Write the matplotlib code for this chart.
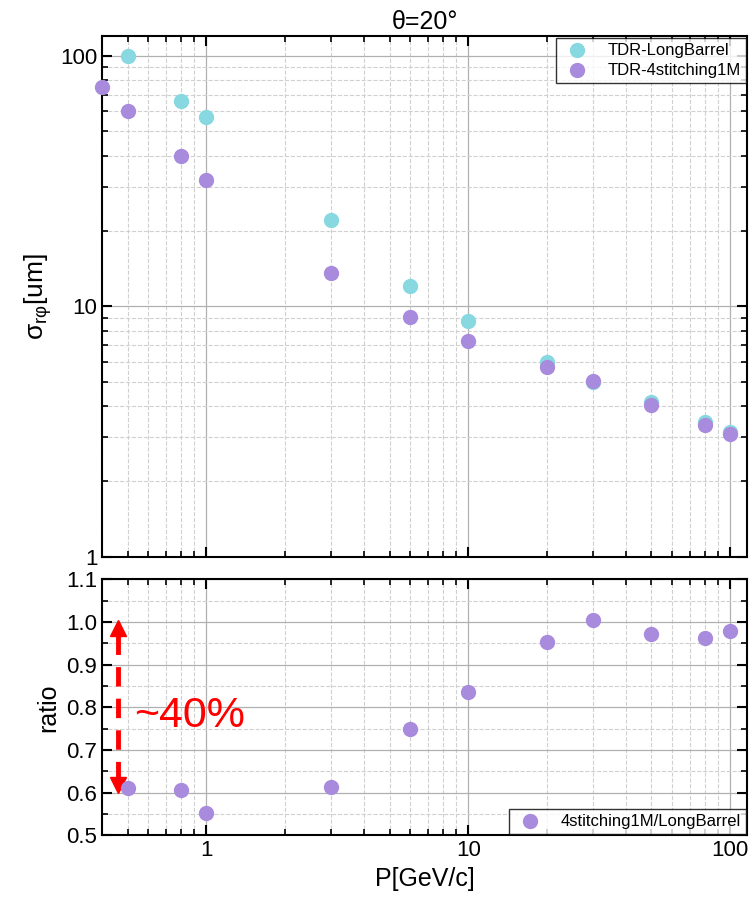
import numpy as np
import matplotlib.pyplot as plt
from matplotlib.ticker import FixedLocator, NullFormatter, MultipleLocator, LogLocator

plt.rcParams['font.family'] = ['Liberation Sans', 'DejaVu Sans']

# data
p_long = [0.5, 0.8, 1, 3, 6, 10, 20, 30, 50, 80, 100]
sigma_long = [100, 66, 57, 22.2, 12.1, 8.7, 6.0, 5.0, 4.15, 3.45, 3.15]
p_stitch = [0.4, 0.5, 0.8, 1, 3, 6, 10, 20, 30, 50, 80, 100]
sigma_stitch = [75, 60, 40, 32, 13.6, 9.1, 7.25, 5.75, 5.05, 4.05, 3.35, 3.1]
p_ratio = [0.5, 0.8, 1, 3, 6, 10, 20, 30, 50, 80, 100]
ratio = [0.61, 0.606, 0.553, 0.612, 0.75, 0.835, 0.953, 1.004, 0.971, 0.962, 0.979]

cyan = '#87d8e0'
purple = '#a98bdd'

fig = plt.figure(figsize=(7.51, 9.01), dpi=100)
ax1 = fig.add_axes([0.136, 0.382, 0.859, 0.578])
ax2 = fig.add_axes([0.136, 0.073, 0.859, 0.284])

xlim = (0.4, 116)

def style(ax):
    ax.set_xscale('log')
    ax.set_xlim(*xlim)
    ax.grid(which='major', color='#b0b0b0', lw=0.9, ls='-')
    ax.grid(which='minor', color='#d0d0d0', lw=0.8, ls='--')
    ax.set_axisbelow(True)
    ax.tick_params(which='both', direction='in', top=True, right=True, labelsize=16)
    ax.tick_params(which='major', length=7, width=1.5)
    ax.tick_params(which='minor', length=4, width=1.2)
    for s in ax.spines.values():
        s.set_linewidth(1.5)
    ax.xaxis.set_major_locator(LogLocator(base=10))
    ax.xaxis.set_minor_locator(LogLocator(base=10, subs=np.arange(2, 10)))
    ax.xaxis.set_minor_formatter(NullFormatter())

# top panel
style(ax1)
ax1.set_yscale('log')
ax1.set_ylim(1, 120)
ax1.yaxis.set_major_locator(FixedLocator([1, 10, 100]))
ax1.yaxis.set_minor_locator(LogLocator(base=10, subs=np.arange(2, 10)))
ax1.yaxis.set_minor_formatter(NullFormatter())
ax1.set_yticklabels(['1', '10', '100'])
ax1.set_xticklabels([])
ax1.scatter(p_long, sigma_long, s=100, color=cyan, label='TDR-LongBarrel', zorder=3, clip_on=False)
ax1.scatter(p_stitch, sigma_stitch, s=100, color=purple, label='TDR-4stitching1M', zorder=3, clip_on=False)
ax1.set_ylabel(r'$\mathregular{\sigma_{r\varphi}}$[um]', fontsize=19)
ax1.set_title('θ=20°', fontsize=18, pad=5)
leg1 = ax1.legend(loc='upper right', fontsize=12, fancybox=False, edgecolor='black',
                  borderaxespad=0.1, handletextpad=0.8, borderpad=0.3, labelspacing=0.3)
leg1.get_frame().set_linewidth(1.0)

# bottom panel
style(ax2)
ax2.set_ylim(0.5, 1.1)
ax2.yaxis.set_major_locator(MultipleLocator(0.1))
ax2.yaxis.set_minor_locator(MultipleLocator(0.05))
ax2.set_xticks([1, 10, 100])
ax2.set_xticklabels(['1', '10', '100'])
ax2.scatter(p_ratio, ratio, s=100, color=purple, label='4stitching1M/LongBarrel', zorder=3)
ax2.set_ylabel('ratio', fontsize=18)
ax2.set_xlabel('P[GeV/c]', fontsize=18)
leg2 = ax2.legend(loc='lower right', fontsize=12, fancybox=False, edgecolor='black',
                  borderaxespad=0.1, handletextpad=0.8, borderpad=0.3)
leg2.get_frame().set_linewidth(1.0)

# ~40% annotation
ax2.plot([0.46, 0.46], [0.97, 0.63], color='red', lw=3.5, ls=(0, (4, 2.5)))
ax2.plot(0.46, 0.985, marker='^', color='red', ms=12, ls='none')
ax2.plot(0.46, 0.618, marker='v', color='red', ms=12, ls='none')
ax2.text(0.53, 0.78, '~40%', color='red', fontsize=31, va='center', ha='left')

fig.savefig('out.png', dpi=100)
